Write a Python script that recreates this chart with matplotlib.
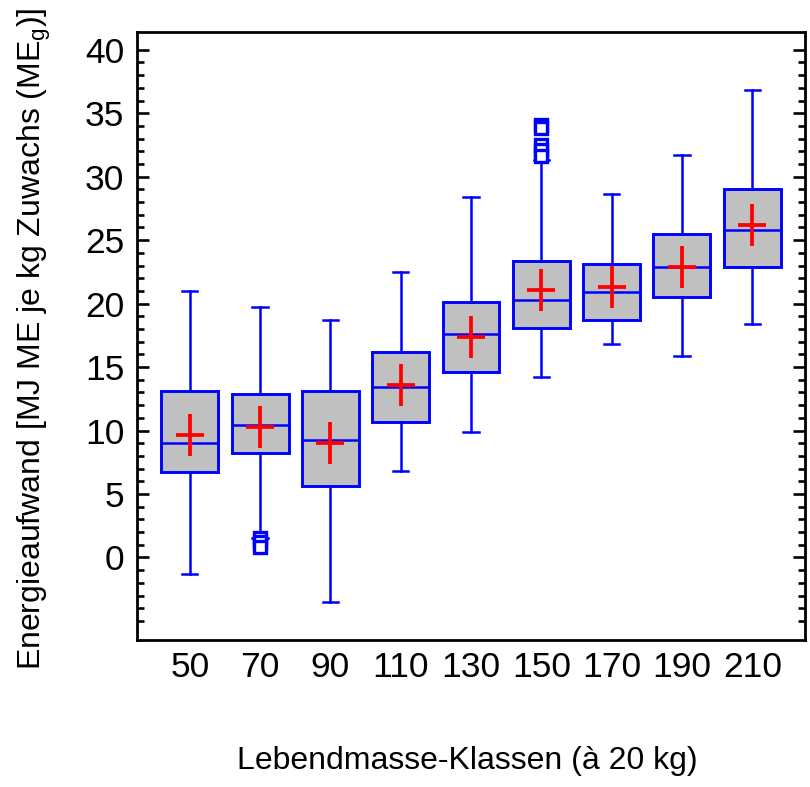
import numpy as np
import matplotlib
matplotlib.use("Agg")
import matplotlib.pyplot as plt
from matplotlib.path import Path
from matplotlib.ticker import FixedLocator

plt.rcParams['font.family'] = ['Liberation Sans', 'DejaVu Sans']
plt.rcParams['mathtext.default'] = 'regular'

# ---- data ----
classes = [50, 70, 90, 110, 130, 150, 170, 190, 210]
q1 = [6.7, 8.25, 5.6, 10.7, 14.6, 18.05, 18.7, 20.5, 22.9]
median = [9.0, 10.45, 9.25, 13.4, 17.6, 20.3, 20.9, 22.9, 25.8]
q3 = [13.15, 12.9, 13.1, 16.2, 20.1, 23.35, 23.1, 25.5, 29.0]
whisker_low = [-1.3, 1.5, -3.5, 6.8, 9.9, 14.2, 16.8, 15.85, 18.4]
whisker_high = [21.0, 19.7, 18.7, 22.5, 28.4, 31.3, 28.6, 31.7, 36.8]
mean = [9.65, 10.3, 9.0, 13.6, 17.4, 21.1, 21.3, 22.9, 26.2]
outliers = {70: [1.5, 1.2, 0.85], 150: [34.1, 33.8, 32.5, 32.1, 31.6]}

xlabel = "Lebendmasse-Klassen (à 20 kg)"
ylabel = "Energieaufwand [MJ ME je kg Zuwachs (ME$_g$)]"
yticks_major = [0, 5, 10, 15, 20, 25, 30, 35, 40]

stats = []
for i, c in enumerate(classes):
    stats.append(dict(label=str(c), med=median[i], q1=q1[i], q3=q3[i],
                      whislo=whisker_low[i], whishi=whisker_high[i],
                      mean=mean[i], fliers=np.array(outliers.get(c, []))))

fig = plt.figure(figsize=(8.1, 7.87), dpi=100)
ax = fig.add_axes([137/810, 1-640/787, (805-137)/810, (640-32)/787])

cross = Path([(-0.69, 0), (0.69, 0), (0, -1), (0, 1)],
             [Path.MOVETO, Path.LINETO, Path.MOVETO, Path.LINETO])

blue = '#0000FF'
ax.bxp(stats, positions=classes, widths=16.2, capwidths=4.3,
       showmeans=True, patch_artist=True,
       boxprops=dict(facecolor='#C0C0C0', edgecolor=blue, linewidth=2.1),
       medianprops=dict(color=blue, linewidth=1.8),
       whiskerprops=dict(color=blue, linewidth=1.8),
       capprops=dict(color=blue, linewidth=1.8),
       flierprops=dict(marker='s', markersize=8, markerfacecolor='white',
                       markeredgecolor=blue, markeredgewidth=2.4, linestyle='none'),
       meanprops=dict(marker=cross, markersize=30.2, markerfacecolor='none',
                      markeredgecolor='#FF0000', markeredgewidth=2.7, linestyle='none'))

ax.set_xlim(35, 225)
ax.set_ylim(-6.5, 41.4)
ax.set_xticks(classes)
ax.set_xticklabels([str(c) for c in classes])
ax.yaxis.set_major_locator(FixedLocator(yticks_major))
ax.yaxis.set_minor_locator(FixedLocator(list(range(-5, 41))))

for s in ax.spines.values():
    s.set_linewidth(2.0)
ax.tick_params(axis='x', length=0, labelsize=25.5, pad=8)
ax.tick_params(axis='y', which='major', direction='in', left=True, right=True,
               length=8.6, width=1.9, labelsize=25.5, pad=9)
ax.tick_params(axis='y', which='minor', direction='in', left=True, right=True,
               length=5, width=1.9)

ax.set_xlabel(xlabel, fontsize=23)
ax.xaxis.set_label_coords(0.495, -0.175)
ax.set_ylabel(ylabel, fontsize=23)
ax.yaxis.set_label_coords(-0.125, 0.495)

fig.savefig("out.png", dpi=100)
